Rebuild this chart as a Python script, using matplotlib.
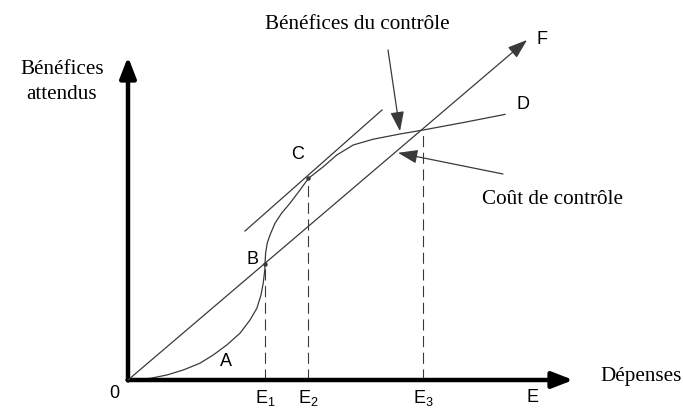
import numpy as np
import matplotlib.pyplot as plt

plt.rcParams['mathtext.fontset'] = 'custom'
plt.rcParams['mathtext.rm'] = 'Liberation Sans'
plt.rcParams['mathtext.it'] = 'Liberation Sans'

# Benefit curve (spending, expected benefit)
curve_x = [0, 5.5, 9.7, 13.8, 18, 21.3, 24.7, 28, 30.5, 32.2, 33.25, 33.8, 34.2,
           34.25, 34.4, 34.8, 35.5, 36.75, 38.4, 40.5, 43, 45.1,
           48.8, 52.2, 56.3, 61.3, 68, 73.8, 84, 94.25]
curve_y = [0, 0.4, 1.25, 2.5, 4.2, 6.25, 8.75, 11.7, 15, 17.9, 21.25, 24.2, 27.5,
           28.9, 31.7, 34.2, 36.25, 39.2, 41.7, 44.2, 47.5, 50.4,
           53.3, 56.25, 58.75, 60.2, 61.5, 62.5, 64.4, 66.4]

# Cost line O -> F, tangent at C
cost_x = [0, 99.75]
cost_y = [0, 85]
tangent_x = [29.25, 63.5]
tangent_y = [37.25, 67.5]

# Spending levels E1, E2, E3 and their benefit values
e_x = [34.25, 45.1, 73.8]
e_y = [28.9, 50.4, 62.5]
e_labels = ['E$_1$', 'E$_2$', 'E$_3$']

fig = plt.figure(figsize=(6.83, 4.09), dpi=100)
ax = fig.add_axes([0, 0, 1, 1])
ax.set_xlim(-32, 138.75)
ax.set_ylim(-7.25, 95)
ax.axis('off')

line_col = '#3a3a3a'

# axes arrows
ax.annotate('', xy=(0, 81.5), xytext=(0, -0.8),
            arrowprops=dict(arrowstyle='-|>,head_length=0.9,head_width=0.35',
                            lw=3.2, color='black', mutation_scale=14))
ax.annotate('', xy=(112, 0), xytext=(-0.8, 0),
            arrowprops=dict(arrowstyle='-|>,head_length=0.9,head_width=0.35',
                            lw=3.2, color='black', mutation_scale=14))

# curve, cost line and tangent
ax.plot(curve_x, curve_y, color=line_col, lw=0.9)
ax.annotate('', xy=(cost_x[1], cost_y[1]), xytext=(cost_x[0], cost_y[0]),
            arrowprops=dict(arrowstyle='-|>,head_length=1.0,head_width=0.35',
                            lw=0.9, color=line_col, mutation_scale=12,
                            shrinkA=0, shrinkB=0))
ax.plot(tangent_x, tangent_y, color=line_col, lw=0.9)
ax.plot([e_x[0], e_x[1]], [e_y[0], e_y[1]], 'o', color=line_col, ms=2.2)

# dashed drops
for x, y in zip(e_x, e_y):
    ax.plot([x, x], [0, y], color=line_col, lw=0.8, dashes=(10, 5))

sans = 'Liberation Sans'
serif = 'Liberation Serif'
fs = 13
ax.text(-3.5, -3.3, '0', fontsize=fs, family=sans, ha='center', va='center')
for x, lab in zip(e_x, e_labels):
    ax.text(x, -4.6, lab, fontsize=fs, family=sans, ha='center', va='center')
ax.text(101, -4.3, 'E', fontsize=fs, family=sans, ha='center', va='center')
ax.text(24.5, 4.5, 'A', fontsize=fs, family=sans, ha='center', va='center')
ax.text(31, 30.2, 'B', fontsize=fs, family=sans, ha='center', va='center')
ax.text(42.5, 56.3, 'C', fontsize=fs, family=sans, ha='center', va='center')
ax.text(98.8, 68.8, 'D', fontsize=fs, family=sans, ha='center', va='center')
ax.text(103.5, 85, 'F', fontsize=fs, family=sans, ha='center', va='center')

tfs = 15.2
ax.text(-16.5, 74.5, 'Bénéfices\nattendus', fontsize=tfs, family=serif,
        ha='center', va='center', linespacing=1.45)
ax.text(118, 0.9, 'Dépenses', fontsize=tfs, family=serif, ha='left', va='center')
ax.text(34.25, 88.8, 'Bénéfices du contrôle', fontsize=tfs, family=serif,
        ha='left', va='center')
ax.text(88.5, 45, 'Coût de contrôle', fontsize=tfs, family=serif,
        ha='left', va='center')

# pointer arrows
ax.annotate('', xy=(68, 62.2), xytext=(65, 82.5),
            arrowprops=dict(arrowstyle='-|>,head_length=1.0,head_width=0.35',
                            lw=0.9, color=line_col, mutation_scale=12,
                            shrinkA=0, shrinkB=0))
ax.annotate('', xy=(67.5, 56.8), xytext=(93.75, 51.5),
            arrowprops=dict(arrowstyle='-|>,head_length=1.0,head_width=0.35',
                            lw=0.9, color=line_col, mutation_scale=12,
                            shrinkA=0, shrinkB=0))

fig.savefig('out.png', dpi=100)
